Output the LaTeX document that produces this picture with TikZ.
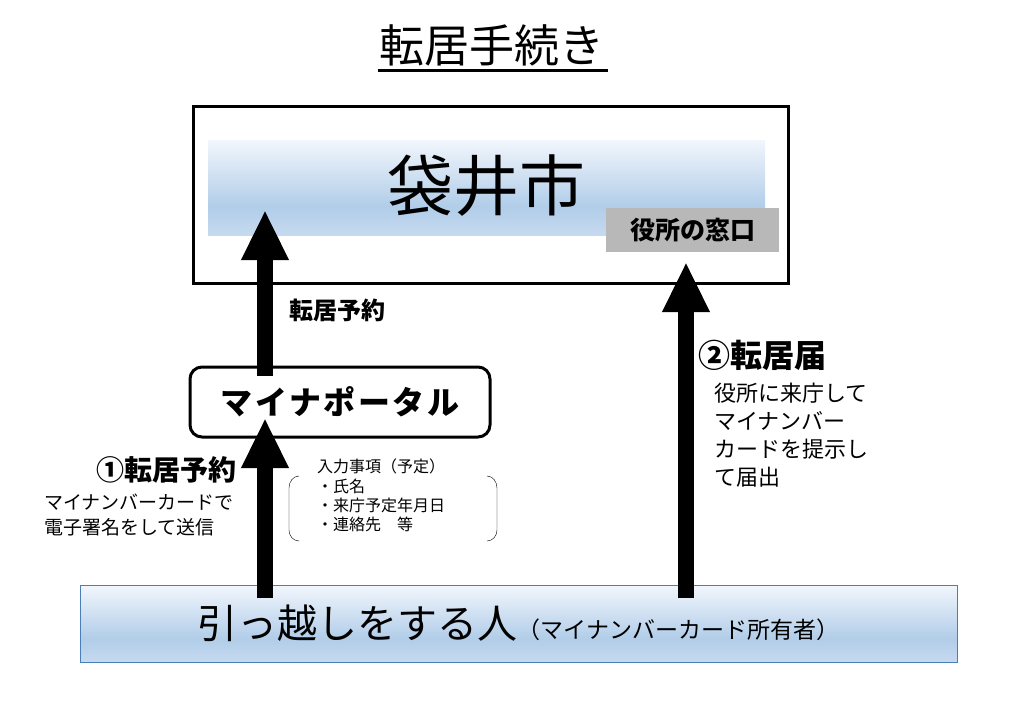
\documentclass[tikz,border=0pt]{standalone}
\usepackage{fontspec}
\setmainfont{Noto Sans CJK JP}
\usetikzlibrary{arrows.meta,calc,positioning}

\definecolor{bandtop}{HTML}{F2F6FC}
\definecolor{bandmid}{HTML}{B1CDE9}
\definecolor{bandlow}{HTML}{C6DAEF}
\definecolor{personblue}{HTML}{4A7EBB}
\definecolor{windowgray}{HTML}{B8B8B8}

\pgfdeclareverticalshading{bandfill}{100bp}{color(0bp)=(bandlow); color(25bp)=(bandlow);
  color(40bp)=(bandmid); color(75bp)=(bandtop); color(100bp)=(bandtop)}

\begin{document}
\begin{tikzpicture}[x=1pt,y=-1pt,
    frame/.style={draw,line width=3pt},
    band/.style={shading=bandfill},
    bigarrow/.style={line width=16pt,-{Triangle[width=44pt,length=50pt]}},
    note/.style={inner sep=0pt,align=left}]
  \useasboundingbox (0,0) rectangle (1020,705);

  % title
  \node (title) at (492,45) {\fontsize{45}{48}\selectfont 転居手続き};
  \draw[line width=3pt] (378,70) -- (608,70);

  % city office
  \node[frame,minimum width=595pt,minimum height=177pt] (city) at (490.5,194.5) {};
  \fill[band] (208,140) rectangle (765,235);
  \node (cityname) at (486,186) {\fontsize{66}{70}\selectfont 袋井市};
  \node[fill=windowgray,minimum width=173pt,minimum height=44pt] (window) at (692.5,230)
    {\bfseries\fontsize{25}{27}\selectfont 役所の窓口};

  % portal
  \node[frame,rounded corners=12pt,minimum width=300pt,minimum height=70pt] (portal) at (340,402)
    {\bfseries\fontsize{32}{34}\selectfont\addfontfeature{LetterSpace=8}マイナポータル};

  % person
  \node[draw=personblue,line width=1pt,band,minimum width=877pt,minimum height=77pt] (person) at (518.5,623.5)
    {{\fontsize{40}{42}\selectfont 引っ越しをする人}{\fontsize{23}{25}\selectfont （マイナンバーカード所有者）}};

  % arrows
  \coordinate (tipA) at (265,418);
  \coordinate (tipB) at (265,210);
  \coordinate (tipC) at (686,262);
  \draw[bigarrow] ([yshift=-13pt]person.north -| tipA) -- (tipA);
  \draw[bigarrow] ([yshift=-10pt]portal.north -| tipB) -- (tipB);
  \draw[bigarrow] ([yshift=-13pt]person.north -| tipC) -- (tipC);

  % labels
  \node[note,anchor=west] (reserve) at (289,310) {\bfseries\fontsize{24}{26}\selectfont 転居予約};
  \node[note] (step1) at (166,470) {\bfseries\fontsize{28}{30}\selectfont ①転居予約};
  \node[note,anchor=north west,font=\fontsize{19}{25}\selectfont] (step1note) at (44,494)
    {マイナンバーカードで\\電子署名をして送信};
  \node[note,anchor=north west,font=\fontsize{16}{19.3}\selectfont] (items) at (317,459)
    {入力事項（予定）\\・氏名\\・来庁予定年月日\\・連絡先　等};
  \draw (299,476) to[out=180,in=90] (289,488) -- (289,530) to[out=-90,in=180] (299,541);
  \draw (487,476) to[out=0,in=90] (497,488) -- (497,530) to[out=-90,in=0] (487,541);

  \node[note,anchor=west] (step2) at (698,355) {\bfseries\fontsize{32}{34}\selectfont ②転居届};
  \node[note,anchor=north west,font=\fontsize{22}{27.8}\selectfont] (step2note) at (714,383)
    {役所に来庁して\\マイナンバー\\カードを提示し\\て届出};
\end{tikzpicture}
\end{document}
